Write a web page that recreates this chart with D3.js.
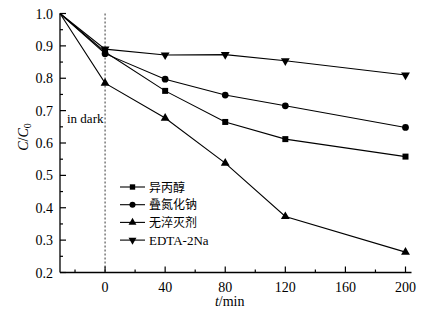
<!DOCTYPE html>
<html>
<head>
<meta charset="utf-8">
<script src="https://cdn.jsdelivr.net/npm/d3@7"></script>
<style>
  body { margin: 0; background: #fff; }
  svg { display: block; }
</style>
</head>
<body>
<svg id="chart" width="431" height="311"></svg>
<script>
// 데이터
const times = [-30, 0, 40, 80, 120, 200];
const seriesNames = ["异丙醇", "叠氮化钠", "无淬灭剂", "EDTA-2Na"];
const isopropanol = [1.0, 0.881, 0.761, 0.665, 0.612, 0.558];
const sodiumAzide = [1.0, 0.876, 0.797, 0.748, 0.715, 0.648];
const noQuencher = [1.0, 0.785, 0.677, 0.538, 0.373, 0.263];
const edta = [1.0, 0.89, 0.872, 0.873, 0.854, 0.81];
const xTicks = [0, 40, 80, 120, 160, 200];
const yTicks = [0.2, 0.3, 0.4, 0.5, 0.6, 0.7, 0.8, 0.9, 1.0];

const svg = d3.select("#chart");
const serif = "'Liberation Serif', 'Times New Roman', serif";
const cjk = "'Noto Sans CJK SC', sans-serif";

const x = d3.scaleLinear().domain([-30, 204]).range([60, 411.5]);
const y = d3.scaleLinear().domain([0.2, 1.0]).range([272.5, 13.5]);

// 축
const gx = svg.append("g").attr("transform", `translate(0,${y(0.2)})`);
gx.append("line").attr("x1", x(-30)).attr("x2", x(204)).attr("stroke", "#000").attr("stroke-width", 1.3);
d3.range(-20, 201, 20).forEach(t => {
  const major = xTicks.includes(t);
  gx.append("line").attr("x1", x(t)).attr("x2", x(t))
    .attr("y1", 0).attr("y2", major ? -6 : -3)
    .attr("stroke", "#000").attr("stroke-width", 1.2);
});
xTicks.forEach(t => {
  gx.append("text").attr("x", x(t)).attr("y", 19)
    .attr("text-anchor", "middle")
    .style("font-family", serif).style("font-size", "14px")
    .text(t);
});

const gy = svg.append("g").attr("transform", `translate(${x(-30)},0)`);
gy.append("line").attr("y1", y(0.2)).attr("y2", y(1.0)).attr("stroke", "#000").attr("stroke-width", 1.3);
d3.range(0.2, 1.001, 0.05).forEach(v => {
  const major = Math.abs(v * 10 - Math.round(v * 10)) < 1e-6;
  gy.append("line").attr("y1", y(v)).attr("y2", y(v))
    .attr("x1", 0).attr("x2", major ? 6 : 3)
    .attr("stroke", "#000").attr("stroke-width", 1.2);
});
yTicks.forEach(v => {
  gy.append("text").attr("x", -7).attr("y", y(v) + 5)
    .attr("text-anchor", "end")
    .style("font-family", serif).style("font-size", "14px")
    .text(v.toFixed(1));
});

// 축 레이블
svg.append("text")
  .attr("transform", `translate(28,${y(0.6) - 6}) rotate(-90)`)
  .attr("text-anchor", "middle")
  .style("font-family", serif).style("font-size", "14px")
  .html('<tspan font-style="italic">C</tspan>/<tspan font-style="italic">C</tspan><tspan font-size="10px" dy="3">0</tspan>');

svg.append("text")
  .attr("x", x(83)).attr("y", 306)
  .attr("text-anchor", "middle")
  .style("font-family", serif).style("font-size", "14px")
  .html('<tspan font-style="italic">t</tspan>/min');

// 암반응 구분선
svg.append("line")
  .attr("x1", x(0)).attr("x2", x(0))
  .attr("y1", y(1.0)).attr("y2", y(0.2))
  .attr("stroke", "#000").attr("stroke-width", 0.8)
  .attr("stroke-dasharray", "2,2");

svg.append("text")
  .attr("x", 67).attr("y", 123)
  .style("font-family", serif).style("font-size", "13px")
  .text("in dark");

// 시리즈
const series = [
  { name: seriesNames[0], values: isopropanol, symbol: d3.symbolSquare, size: 36, rot: 0 },
  { name: seriesNames[1], values: sodiumAzide, symbol: d3.symbolCircle, size: 36, rot: 0 },
  { name: seriesNames[2], values: noQuencher, symbol: d3.symbolTriangle, size: 34, rot: 0 },
  { name: seriesNames[3], values: edta, symbol: d3.symbolTriangle, size: 34, rot: 180 }
];

const line = d3.line().x((d, i) => x(times[i])).y(d => y(d));

series.forEach(s => {
  svg.append("path")
    .attr("d", line(s.values))
    .attr("fill", "none")
    .attr("stroke", "#000")
    .attr("stroke-width", 1.1);

  svg.selectAll(null)
    .data(s.values.slice(1))
    .enter()
    .append("path")
    .attr("d", d3.symbol().type(s.symbol).size(s.size))
    .attr("transform", (d, i) => `translate(${x(times[i + 1])},${y(d)}) rotate(${s.rot})`)
    .attr("fill", "#000");
});

// 범례
const legend = svg.append("g").attr("transform", "translate(120,187)");
series.forEach((s, i) => {
  const row = legend.append("g").attr("transform", `translate(0,${i * 17.7})`);
  row.append("line").attr("x1", 0).attr("x2", 25)
    .attr("stroke", "#000").attr("stroke-width", 1.1);
  row.append("path")
    .attr("d", d3.symbol().type(s.symbol).size(s.size * 0.8))
    .attr("transform", `translate(12.5,0) rotate(${s.rot})`)
    .attr("fill", "#000");
  row.append("text")
    .attr("x", 29).attr("y", i === 3 ? 5 : 4.5)
    .style("font-family", i === 3 ? serif : cjk)
    .style("font-size", i === 3 ? "13px" : "12px")
    .text(s.name);
});
</script>
</body>
</html>
